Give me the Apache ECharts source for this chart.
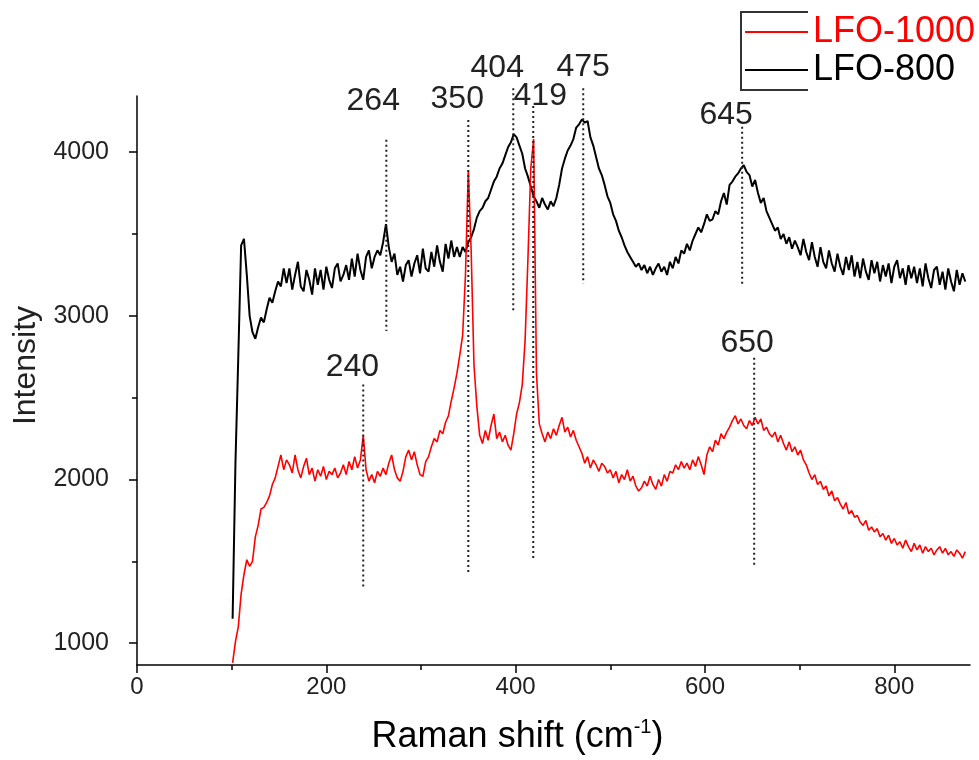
<!DOCTYPE html>
<html><head><meta charset="utf-8">
<script src="https://cdn.jsdelivr.net/npm/echarts@6/dist/echarts.min.js"></script>
<style>html,body{margin:0;padding:0;background:#fff}#c{width:979px;height:760px}</style>
</head><body><div id="c"></div><script>
// Raman shift sampling (cm^-1): first value and spacing
const xStart = 101, xStep = 3;
// LFO-800 intensities (black)
const lfo800 = [
1150,2100,2750,3430,3470,3250,3000,2900,2860,2930,
2990,2960,3040,3110,3080,3150,3210,3180,3290,3200,
3290,3160,3250,3330,3180,3150,3280,3220,3130,3290,
3190,3280,3160,3300,3220,3170,3290,3320,3210,3250,
3310,3220,3350,3240,3380,3280,3220,3360,3400,3290,
3360,3400,3370,3450,3560,3420,3330,3380,3250,3300,
3210,3310,3340,3240,3320,3370,3260,3410,3290,3270,
3390,3300,3430,3330,3270,3440,3350,3460,3360,3420,
3360,3420,3390,3450,3480,3530,3600,3640,3660,3700,
3720,3770,3820,3850,3900,3930,3980,4030,4060,4110,
4090,4040,3990,3900,3850,3790,3730,3700,3660,3720,
3680,3650,3700,3670,3720,3800,3900,3960,4010,4040,
4080,4150,4170,4200,4180,4190,4090,4040,3970,3900,
3860,3800,3730,3690,3620,3580,3520,3480,3430,3390,
3360,3330,3300,3320,3280,3310,3260,3300,3250,3290,
3320,3270,3300,3250,3330,3290,3360,3320,3400,3380,
3440,3400,3460,3500,3540,3510,3560,3620,3580,3590,
3640,3620,3700,3750,3680,3800,3820,3850,3870,3900,
3920,3880,3860,3790,3830,3750,3690,3720,3640,3600,
3560,3520,3540,3470,3500,3440,3480,3410,3460,3420,
3370,3470,3390,3340,3450,3360,3300,3420,3330,3290,
3400,3320,3270,3380,3300,3250,3360,3280,3370,3240,
3330,3230,3350,3270,3220,3340,3260,3330,3210,3310,
3240,3320,3200,3300,3340,3230,3290,3190,3310,3230,
3300,3200,3290,3180,3320,3230,3170,3280,3300,3190,
3270,3160,3290,3210,3150,3280,3190,3260,3210
];
// LFO-1000 intensities (red)
const lfo1000 = [
880,1010,1100,1300,1420,1510,1470,1500,1650,1720,
1820,1830,1860,1900,1970,2010,2080,2150,2060,2120,
2090,2040,2150,2060,2010,2080,2130,2030,2070,1990,
2060,2020,2080,2000,2050,2030,2070,2010,2040,2090,
2030,2110,2060,2140,2070,2120,2270,2060,1990,2030,
1980,2050,2020,2070,2030,2100,2150,2060,2010,1990,
2050,2140,2180,2120,2170,2090,2030,2020,2110,2140,
2200,2250,2230,2300,2280,2350,2390,2480,2560,2650,
2760,2880,3250,3890,3400,2700,2450,2270,2220,2300,
2240,2330,2400,2250,2290,2230,2270,2210,2180,2280,
2400,2470,2580,2850,3350,3900,4080,2650,2340,2280,
2230,2290,2250,2310,2270,2330,2380,2290,2320,2260,
2300,2240,2200,2160,2100,2140,2070,2120,2090,2050,
2100,2080,2040,2060,2010,2050,1980,2030,2000,2060,
1990,2020,1960,1930,1950,1990,1960,2020,1970,1940,
2000,1960,2030,1990,2050,2040,2090,2060,2110,2070,
2100,2060,2120,2080,2140,2090,2030,2150,2200,2170,
2240,2210,2280,2250,2290,2320,2360,2390,2340,2370,
2330,2310,2360,2330,2380,2340,2370,2300,2320,2280,
2260,2290,2230,2270,2220,2180,2230,2170,2200,2150,
2180,2120,2090,2040,2000,2030,1970,1990,1940,1960,
1900,1930,1870,1890,1850,1820,1860,1790,1810,1770,
1780,1740,1720,1750,1690,1710,1680,1700,1650,1670,
1630,1660,1610,1640,1600,1620,1580,1630,1590,1560,
1610,1570,1600,1550,1590,1560,1580,1540,1570,1590,
1550,1580,1540,1560,1530,1570,1550,1520,1560
];
// Peak annotations
const peakLabels = ['240','264','350','404','419','475','645','650'];
const peakLineX = [239, 263.4, 350, 397.5, 418.6, 471.4, 639.3, 652];
const peakLineTop = [2581, 4076, 4197, 4391, 4282, 4391, 4155, 2744];
const peakLineBottom = [1340, 2908, 1425, 3017, 1510, 3198, 3186, 1473];
const peakLabelX = [227.5, 249.6, 338.3, 380.6, 426, 471.4, 622.4, 644.6];
const peakLabelY = [2684, 4312, 4324, 4512, 4343, 4518, 4228, 2835];
// Axis ticks
const xTickLabels = [0, 200, 400, 600, 800];
const xMinorTicks = [100, 300, 500, 700];
const yTickLabels = [1000, 2000, 3000, 4000];
const yMinorTicks = [1500, 2500, 3500];

const FONT = 'Liberation Sans, Arial, sans-serif';
const toPairs = arr => arr.map((v, i) => [xStart + i * xStep, v]);

const chart = echarts.init(document.getElementById('c'), null, {renderer: 'canvas'});
const axisLineStyle = {color: '#000', width: 1.5};
chart.setOption({
  animation: false,
  backgroundColor: '#fff',
  grid: {left: 137, right: 9, top: 96, bottom: 90},
  legend: {
    orient: 'vertical', left: 745, top: 14, padding: 0, icon: 'rect',
    itemWidth: 63, itemHeight: 2, itemGap: 2,
    textStyle: {fontSize: 36, fontFamily: FONT, lineHeight: 36},
    data: [
      {name: 'LFO-1000', textStyle: {color: '#ff0000'}},
      {name: 'LFO-800', textStyle: {color: '#000'}}
    ]
  },
  xAxis: [{
    type: 'value', min: 0, max: 880,
    axisLine: {lineStyle: axisLineStyle},
    axisTick: {customValues: xTickLabels, length: 8, lineStyle: axisLineStyle},
    axisLabel: {customValues: xTickLabels, fontSize: 24, color: '#222', margin: 10, fontFamily: FONT,
      formatter: v => String(v)},
    splitLine: {show: false},
    name: '{a|Raman shift (cm}{s|-1}{a|)}',
    nameLocation: 'middle', nameGap: 52,
    nameTextStyle: {
      padding: [0, 72, 0, 0],
      rich: {
        a: {fontSize: 36, fontFamily: FONT, color: '#000', lineHeight: 40},
        s: {fontSize: 20, fontFamily: FONT, color: '#000', verticalAlign: 'top', lineHeight: 22}
      }
    }
  }, {
    type: 'value', min: 0, max: 880, position: 'bottom',
    axisLine: {show: false},
    axisTick: {customValues: xMinorTicks, length: 5, lineStyle: axisLineStyle},
    axisLabel: {show: false},
    splitLine: {show: false}
  }],
  yAxis: [{
    type: 'value', min: 867, max: 4343,
    axisLine: {show: true, lineStyle: axisLineStyle},
    axisTick: {show: true, customValues: yTickLabels, length: 8, lineStyle: axisLineStyle},
    axisLabel: {customValues: yTickLabels, fontSize: 25, color: '#222', margin: 28, fontFamily: FONT,
      formatter: v => String(v)},
    splitLine: {show: false},
    name: 'Intensity', nameLocation: 'middle', nameGap: 92, nameRotate: 90,
    nameTextStyle: {fontSize: 32, fontFamily: FONT, color: '#222', padding: [0, 0, 0, 30]}
  }, {
    type: 'value', min: 867, max: 4343, position: 'left',
    axisLine: {show: false},
    axisTick: {show: true, customValues: yMinorTicks, length: 5, lineStyle: axisLineStyle},
    axisLabel: {show: false},
    splitLine: {show: false}
  }],
  series: [{
    type: 'line', name: 'LFO-800', data: toPairs(lfo800),
    xAxisIndex: 0, yAxisIndex: 0,
    symbol: 'none', showSymbol: false,
    lineStyle: {color: '#000', width: 2}, itemStyle: {color: '#000'}
  }, {
    type: 'line', name: 'LFO-1000', data: toPairs(lfo1000),
    xAxisIndex: 0, yAxisIndex: 0,
    symbol: 'none', showSymbol: false,
    lineStyle: {color: '#ff0000', width: 1.6}, itemStyle: {color: '#ff0000'}
  }]
});

const g = [{
  type: 'polyline', z: 100,
  shape: {points: [[808, 12], [741, 12], [741, 90], [808, 90]]},
  style: {stroke: '#333', lineWidth: 2, fill: null}
}];
for (let i = 0; i < peakLabels.length; i++) {
  const p1 = chart.convertToPixel({seriesIndex: 0}, [peakLineX[i], peakLineTop[i]]);
  const p2 = chart.convertToPixel({seriesIndex: 0}, [peakLineX[i], peakLineBottom[i]]);
  g.push({type: 'line', z: 100, shape: {x1: p1[0], y1: p1[1], x2: p2[0], y2: p2[1]},
    style: {stroke: '#222', lineWidth: 2, lineDash: [2, 3]}});
  const q = chart.convertToPixel({seriesIndex: 0}, [peakLabelX[i], peakLabelY[i]]);
  g.push({type: 'text', z: 100, x: q[0], y: q[1],
    style: {text: peakLabels[i], fontSize: 32, fontFamily: FONT, fill: '#222', align: 'center', verticalAlign: 'middle'}});
}
chart.setOption({graphic: g});
</script></body></html>
